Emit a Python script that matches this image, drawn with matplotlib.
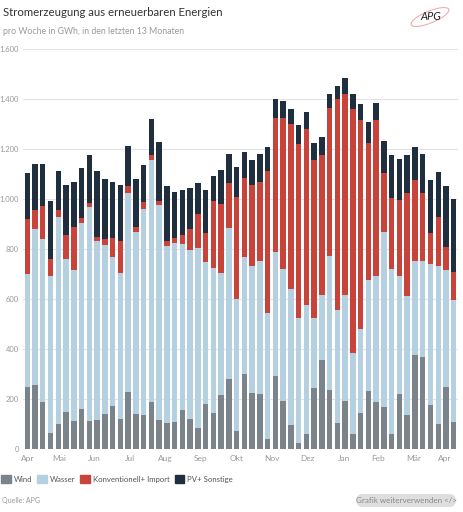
import matplotlib
matplotlib.use("Agg")
import matplotlib.pyplot as plt
from matplotlib.patches import Patch, FancyBboxPatch, Ellipse
import numpy as np

plt.rcParams['font.family'] = ['Lato', 'DejaVu Sans']

# weekly values in GWh (56 weeks)
wind = [250, 258, 187, 66, 102, 150, 114, 162, 111, 115, 140, 172, 122, 228,
        140, 136, 188, 117, 105, 109, 156, 122, 86, 180, 144, 217, 282, 73,
        302, 224, 221, 41, 293, 193, 98, 25, 61, 244, 356, 236, 105, 193,
        61, 146, 232, 187, 170, 61, 221, 138, 377, 368, 177, 102, 249, 107]
wasser = [449, 621, 655, 628, 827, 610, 604, 741, 856, 718, 677, 595, 583, 797,
          730, 826, 970, 858, 706, 715, 666, 675, 717, 570, 580, 488, 603, 528,
          465, 508, 530, 503, 495, 527, 543, 501, 516, 280, 259, 536, 450, 424,
          322, 333, 445, 504, 700, 659, 473, 473, 374, 386, 565, 632, 468, 490]
konv = [222, 79, 129, 66, 26, 98, 170, 22, 17, 17, 22, 76, 128, 26,
        18, 26, 17, 17, 21, 19, 33, 85, 139, 113, 267, 277, 181, 407,
        316, 325, 317, 569, 538, 606, 659, 696, 703, 633, 563, 594, 846, 805,
        979, 839, 548, 627, 233, 284, 303, 413, 324, 272, 124, 196, 92, 113]
pv = [183, 183, 169, 233, 156, 200, 180, 200, 191, 261, 240, 225, 224, 160,
      194, 148, 145, 236, 222, 187, 182, 161, 124, 175, 100, 133, 113, 122,
      104, 101, 114, 96, 75, 67, 62, 74, 70, 67, 72, 56, 53, 64,
      58, 64, 82, 66, 131, 171, 164, 154, 132, 153, 212, 179, 242, 289]

months = ["Apr", "Mai", "Jun", "Jul", "Aug", "Sep", "Okt", "Nov", "Dez",
          "Jan", "Feb", "Mär", "Apr"]
month_pos = [0.1, 4.1, 8.7, 13.2, 17.8, 22.3, 27.0, 31.5, 36.1, 40.8, 45.3, 49.8, 53.9]

series = [("Wind", wind, "#7b848b"),
          ("Wasser", wasser, "#b5d0e1"),
          ("Konventionell+ Import", konv, "#c8433a"),
          ("PV+ Sonstige", pv, "#1f2f3f")]

W, H = 463, 512
fig = plt.figure(figsize=(W / 100, H / 100), dpi=100)
ax = fig.add_axes([23 / W, 63 / H, 435 / W, 400 / H])

x = np.arange(len(wind))
bottom = np.zeros(len(wind))
for name, vals, col in series:
    ax.bar(x, vals, width=0.7, bottom=bottom, color=col, label=name, zorder=2)
    bottom += np.array(vals)

ax.set_xlim(-0.55, len(wind) - 0.45)
ax.set_ylim(0, 1600)
yt = np.arange(0, 1601, 200)
ax.set_yticks(yt)
ax.set_yticklabels([f"{v:,}".replace(",", ".") for v in yt])
ax.set_xticks(month_pos)
ax.set_xticklabels(months)
ax.tick_params(axis="x", length=0, labelsize=6, colors="#9a9a9a", pad=4)
ax.tick_params(axis="y", length=0, labelsize=5.5, colors="#9a9a9a", pad=3)
ax.grid(axis="y", color="#e3e3e3", lw=0.8, zorder=0)
for s in ax.spines.values():
    s.set_visible(False)

fig.text(3 / W, 1 - 13 / H, "Stromerzeugung aus erneuerbaren Energien",
         fontsize=8.2, color="#333333", va="center")
fig.text(3 / W, 1 - 32 / H, "pro Woche in GWh, in den letzten 13 Monaten",
         fontsize=6.3, color="#999999", va="center")

# logo
fig.patches.append(Ellipse((430 / W, 1 - 17 / H), 40 / W, 12 / H, angle=20,
                           fill=False, ec="#e8b0aa", lw=0.8,
                           transform=fig.transFigure))
fig.text(431 / W, 1 - 17 / H, "APG", fontsize=8, color="#222222",
         ha="center", va="center", style="italic")

handles = [Patch(color=c, label=n) for n, _, c in series]
fig.legend(handles=handles, loc="center left", bbox_to_anchor=(-0.012, 1 - 479 / H),
           ncol=4, frameon=False, fontsize=5.6, handlelength=1.25, handleheight=1.25,
           handletextpad=0.35, columnspacing=0.65, labelcolor="#555555")

fig.text(2 / W, 1 - 500 / H, "Quelle: APG", fontsize=5, color="#999999", va="center")
fig.patches.append(FancyBboxPatch((356 / W, 1 - 507 / H), 100 / W, 13 / H,
                                  boxstyle="round,pad=0,rounding_size=0.014",
                                  fc="#dedede", ec="none",
                                  transform=fig.transFigure))
fig.text(406 / W, 1 - 500.5 / H, "Grafik weiterverwenden </>", fontsize=5.8,
         color="#8a8a8a", ha="center", va="center")

fig.savefig("out.png", dpi=100)
